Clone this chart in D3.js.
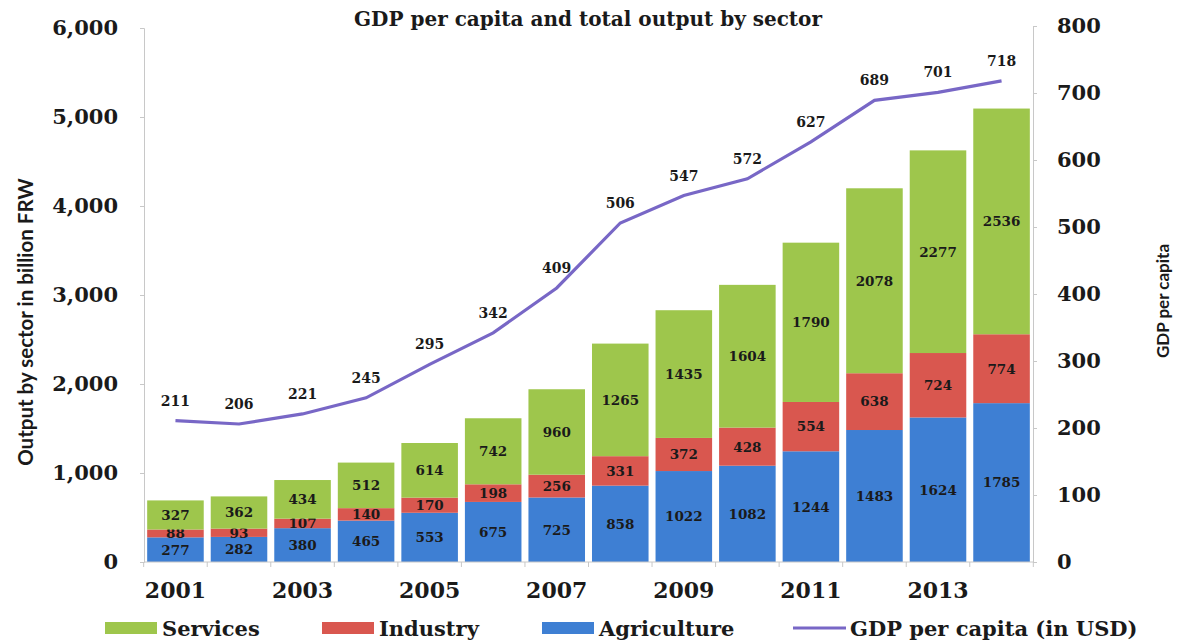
<!DOCTYPE html>
<html>
<head>
<meta charset="utf-8">
<script src="https://cdn.jsdelivr.net/npm/d3@7"></script>
<style>
  html, body { margin: 0; padding: 0; background: #fff; }
  svg text { font-family: "DejaVu Serif", "Liberation Serif", serif; font-weight: bold; fill: #1a1a1a; }
  svg text.sans { font-family: Lato, "Open Sans", sans-serif; font-weight: bold; }
</style>
</head>
<body>
<svg id="chart" width="1177" height="643"></svg>
<script>
// Output by sector (billion FRW) and GDP per capita (USD), 2001–2014
const years = [2001, 2002, 2003, 2004, 2005, 2006, 2007, 2008, 2009, 2010, 2011, 2012, 2013, 2014];
const agriculture = [277, 282, 380, 465, 553, 675, 725, 858, 1022, 1082, 1244, 1483, 1624, 1785];
const industry = [88, 93, 107, 140, 170, 198, 256, 331, 372, 428, 554, 638, 724, 774];
const services = [327, 362, 434, 512, 614, 742, 960, 1265, 1435, 1604, 1790, 2078, 2277, 2536];
const gdpPerCapita = [211, 206, 221, 245, 295, 342, 409, 506, 547, 572, 627, 689, 701, 718];
const leftTicks = [0, 1000, 2000, 3000, 4000, 5000, 6000];
const rightTicks = [0, 100, 200, 300, 400, 500, 600, 700, 800];
const yearLabels = [2001, 2003, 2005, 2007, 2009, 2011, 2013];

const colors = { Agriculture: "#3e7fd3", Industry: "#d9574f", Services: "#9ec64c", line: "#7867c6" };

const svg = d3.select("#chart");
const plot = { left: 144, right: 1033, top: 26, bottom: 562 };

const x = d3.scaleBand().domain(years).range([plot.left, plot.right]).paddingInner(0.11).paddingOuter(0.05);
const yL = d3.scaleLinear().domain([0, 6000]).range([plot.bottom, plot.top + 2]);
const yR = d3.scaleLinear().domain([0, 800]).range([plot.bottom, plot.top]);

// Stacked bars
const rows = years.map((yr, i) => ({ year: yr, Agriculture: agriculture[i], Industry: industry[i], Services: services[i] }));
const keys = ["Agriculture", "Industry", "Services"];
const stacked = d3.stack().keys(keys)(rows);

const layers = svg.append("g").selectAll("g").data(stacked).join("g")
  .attr("fill", d => colors[d.key]);
layers.selectAll("rect").data(d => d).join("rect")
  .attr("x", d => x(d.data.year))
  .attr("width", x.bandwidth())
  .attr("y", d => yL(d[1]))
  .attr("height", d => yL(d[0]) - yL(d[1]));

// Segment value labels
layers.selectAll("text").data(d => d.map(p => ({ p, key: d.key }))).join("text")
  .attr("x", d => x(d.p.data.year) + x.bandwidth() / 2)
  .attr("y", d => (yL(d.p[0]) + yL(d.p[1])) / 2)
  .attr("dy", "0.36em")
  .attr("text-anchor", "middle")
  .style("font-size", "13.5px")
  .text(d => d.p.data[d.key]);

// Axes
const axisL = d3.axisLeft(yL).tickValues(leftTicks).tickFormat(d3.format(",")).tickSize(4).tickPadding(22);
const gL = svg.append("g").attr("transform", `translate(${plot.left},0)`).call(axisL);
gL.select(".domain").attr("stroke", "#c8c8c8");
gL.selectAll(".tick line").attr("stroke", "#c8c8c8");
gL.selectAll("text").style("font-size", "21px").attr("fill", "#1a1a1a");

const axisR = d3.axisRight(yR).tickValues(rightTicks).tickSize(4).tickPadding(20);
const gR = svg.append("g").attr("transform", `translate(${plot.right},0)`).call(axisR);
gR.select(".domain").attr("stroke", "#c8c8c8");
gR.selectAll(".tick line").attr("stroke", "#c8c8c8");
gR.selectAll("text").style("font-size", "21px").attr("fill", "#1a1a1a");

// Category axis: boundary ticks between bars, labels on odd years
const gX = svg.append("g");
gX.append("line").attr("x1", plot.left).attr("x2", plot.right)
  .attr("y1", plot.bottom).attr("y2", plot.bottom).attr("stroke", "#c8c8c8");
const step = x.step();
const edges = d3.range(years.length + 1).map(i => x(years[0]) - step * x.paddingInner() / 2 + i * step);
gX.selectAll("line.edge").data(edges).join("line").attr("class", "edge")
  .attr("x1", d => d).attr("x2", d => d)
  .attr("y1", plot.bottom).attr("y2", plot.bottom + 5).attr("stroke", "#c8c8c8");
gX.selectAll("text").data(yearLabels).join("text")
  .attr("x", d => x(d) + x.bandwidth() / 2)
  .attr("y", 598)
  .attr("text-anchor", "middle")
  .style("font-size", "22px")
  .text(d => d);

// GDP per capita line
const line = d3.line().x((d, i) => x(years[i]) + x.bandwidth() / 2).y(d => yR(d));
svg.append("path").datum(gdpPerCapita)
  .attr("d", line).attr("fill", "none")
  .attr("stroke", colors.line).attr("stroke-width", 3.2);
svg.append("g").selectAll("text").data(gdpPerCapita).join("text")
  .attr("x", (d, i) => x(years[i]) + x.bandwidth() / 2)
  .attr("y", d => yR(d) - 15)
  .attr("text-anchor", "middle")
  .style("font-size", "14px")
  .text(d => d);

// Titles
svg.append("text").attr("x", 588).attr("y", 26).attr("text-anchor", "middle")
  .style("font-size", "20px").text("GDP per capita and total output by sector");
svg.append("text").attr("class", "sans").attr("transform", "translate(33,322) rotate(-90)").attr("text-anchor", "middle")
  .style("font-size", "20.5px").text("Output by sector in billion FRW");
svg.append("text").attr("class", "sans").attr("transform", "translate(1169,301) rotate(-90)").attr("text-anchor", "middle")
  .style("font-size", "17px").text("GDP per capita");

// Legend
const legend = [
  { label: "Services", type: "rect", color: colors.Services, x: 105 },
  { label: "Industry", type: "rect", color: colors.Industry, x: 322 },
  { label: "Agriculture", type: "rect", color: colors.Agriculture, x: 542 },
  { label: "GDP per capita (in USD)", type: "line", color: colors.line, x: 793 }
];
const lg = svg.append("g").selectAll("g").data(legend).join("g")
  .attr("transform", d => `translate(${d.x},628)`);
lg.filter(d => d.type === "rect").append("rect")
  .attr("x", 0).attr("y", -6).attr("width", 52).attr("height", 12).attr("fill", d => d.color);
lg.filter(d => d.type === "line").append("line")
  .attr("x1", 0).attr("x2", 53).attr("y1", 0).attr("y2", 0)
  .attr("stroke", d => d.color).attr("stroke-width", 3);
lg.append("text").attr("x", 57).attr("y", 0).attr("dy", "0.36em")
  .style("font-size", "21px").text(d => d.label);
</script>
</body>
</html>
